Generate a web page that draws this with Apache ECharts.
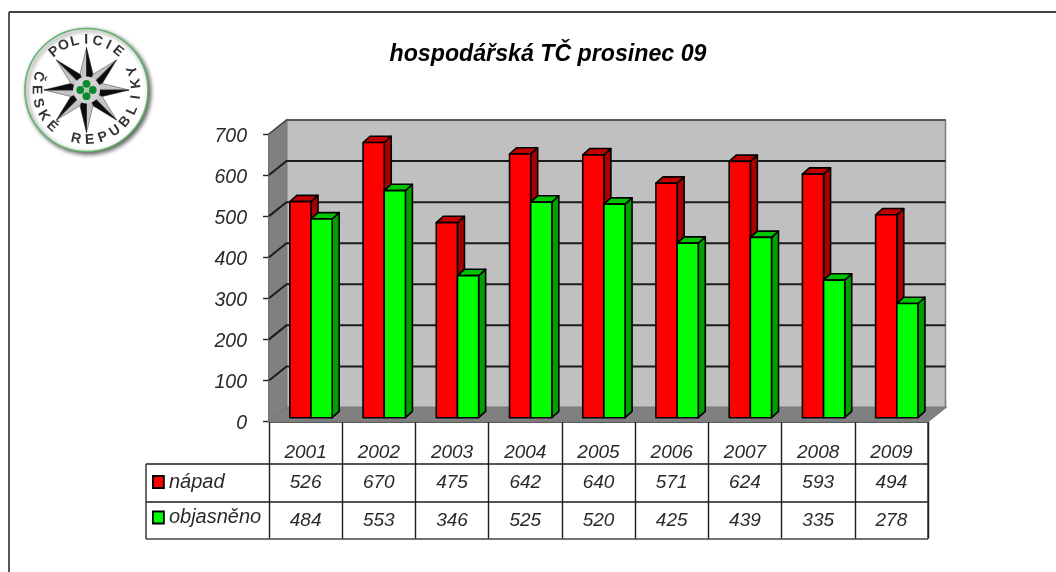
<!DOCTYPE html>
<html><head><meta charset="utf-8">
<style>html,body{margin:0;padding:0;background:#fff}#c{width:1056px;height:572px}</style>
<script src="https://cdn.jsdelivr.net/npm/echarts@6/dist/echarts.min.js"></script>
</head><body><div id="c"></div>
<script>
const years = ['2001','2002','2003','2004','2005','2006','2007','2008','2009'];
const napad = [526,670,475,642,640,571,624,593,494];
const objasneno = [484,553,346,525,520,425,439,335,278];
const yTicks = [0,100,200,300,400,500,600,700];
const titleText = 'hospodářská TČ prosinec 09';
const FONT = '"Liberation Sans", Arial, sans-serif';
const TXT = '#2a2a2a';

const chart = echarts.init(document.getElementById('c'), null, {renderer:'canvas'});
const DX = 17.5, DY = -14;

function wallItem(params, api){
  const c = params.coordSys;
  const x0=c.x, x1=c.x+c.width, yT=c.y, yB=c.y+c.height;
  const poly=(pts,fill,stroke)=>({type:'polygon',shape:{points:pts},style:{fill,stroke:stroke||'#7a7a7a',lineWidth:1.5}});
  const kids=[
    poly([[x0+DX,yT+DY],[x1+DX,yT+DY],[x1+DX,yB+DY],[x0+DX,yB+DY]],'#c0c0c0'),
    poly([[x0,yT],[x0+DX,yT+DY],[x0+DX,yB+DY],[x0,yB]],'#808080'),
    poly([[x0,yB],[x0+DX,yB+DY],[x1+DX,yB+DY],[x1,yB]],'#808080')
  ];
  yTicks.forEach(t=>{
    if(t===0) return;
    const y=api.coord([0,t])[1];
    const top = t===yTicks[yTicks.length-1];
    kids.push({type:'polyline',shape:{points:[[x0,y],[x0+DX,y+DY],[x1+DX,y+DY]]},
      style:{fill:'none',stroke:top?'#444':'#1c1c1c',lineWidth:top?1.5:2}});
  });
  return {type:'group',children:kids};
}

function barItem(side, front, top, sideCol, rowY){
  return function(params, api){
    const i=api.value(0), v=api.value(1);
    const p=api.coord([i,v]), b=api.coord([i,0]);
    const w=api.size([1,0])[0]*0.289;
    const sx=5.4, sy=-3.8, dx=7, dy=-6.3;
    const xa=p[0]+sx+(side<0?-w:0), xb=xa+w, yt=p[1]+sy, yb=b[1]+sy;
    const st=(fill)=>({fill,stroke:'#000',lineWidth:1.6,lineJoin:'round'});
    return {type:'group',children:[
      {type:'polygon',shape:{points:[[xb,yt],[xb+dx,yt+dy],[xb+dx,yb+dy],[xb,yb]]},style:st(sideCol)},
      {type:'polygon',shape:{points:[[xa,yt],[xa+dx,yt+dy],[xb+dx,yt+dy],[xb,yt]]},style:st(top)},
      {type:'rect',shape:{x:xa,y:yt,width:w,height:yb-yt},style:st(front)},
      {type:'text',x:p[0],y:rowY,style:{text:String(v),align:'center',verticalAlign:'middle',
        font:'italic 19px '+FONT,fill:TXT}}
    ]};
  };
}

// decoration: police emblem
function logo(){
  const cx=86.5, cy=90, kids=[];
  kids.push({type:'circle',shape:{cx,cy,r:61.5},style:{fill:'#fff',stroke:'#62b56c',lineWidth:1.6,
    shadowBlur:4,shadowColor:'rgba(0,0,0,.65)',shadowOffsetX:2,shadowOffsetY:2}});
  const R=42.5, r=17;
  for(let k=0;k<8;k++){
    const a=k*Math.PI/4;
    const pt=(rad,ang)=>[cx+rad*Math.sin(ang),cy-rad*Math.cos(ang)];
    const tip=pt(R,a), l=pt(r,a-Math.PI/8), rr=pt(r,a+Math.PI/8), c=[cx,cy];
    kids.push({type:'polygon',shape:{points:[c,tip,l]},style:{fill:'#c4c4c4',stroke:'#555',lineWidth:.6}});
    kids.push({type:'polygon',shape:{points:[c,tip,rr]},style:{fill:'#0c0c0c',stroke:'#222',lineWidth:.6}});
  }
  kids.push({type:'circle',shape:{cx,cy,r:13.5},style:{fill:'#d2d2d2'}});
  [[0,-6.2],[6.2,0],[0,6.2],[-6.2,0]].forEach(o=>kids.push({type:'circle',shape:{cx:cx+o[0],cy:cy+o[1],r:3.9},style:{fill:'#0e8a2e'}}));
  kids.push({type:'circle',shape:{cx,cy,r:2},style:{fill:'#9fc9a8'}});
  const letter=(ch,deg,rot)=>{
    const a=deg*Math.PI/180, TR=50;
    kids.push({type:'text',x:cx+TR*Math.sin(a),y:cy-TR*Math.cos(a),rotation:-rot*Math.PI/180,
      style:{text:ch,align:'center',verticalAlign:'middle',font:'bold 14px '+FONT,fill:'#333'}});
  };
  const top='POLICIE';
  for(let i=0;i<top.length;i++){const d=-40+i*13.2; letter(top[i],d,d);}
  const bot='ČESKÉ REPUBLIKY';
  for(let i=0;i<bot.length;i++){const d=286-i*(219/14); if(bot[i]!==' ') letter(bot[i],d,d-180);}
  return {type:'group',silent:true,children:kids};
}

function ln(x1,y1,x2,y2,c,w){return {type:'line',silent:true,shape:{x1,y1,x2,y2},style:{stroke:c||'#1c1c1c',lineWidth:w||1.4}};}

const option={
  animation:false,
  backgroundColor:'#fff',
  title:{text:titleText,left:543,top:38,textAlign:'center',
    textStyle:{fontFamily:FONT,fontStyle:'italic',fontWeight:'bold',fontSize:23.2,color:'#000'}},
  grid:{left:269,top:134,width:659,height:287.5,containLabel:false},
  legend:{orient:'vertical',left:147,top:467,itemWidth:11,itemHeight:12,itemGap:15.5,selectedMode:false,
    textStyle:{fontFamily:FONT,fontStyle:'italic',fontSize:20,color:TXT},
    data:[
      {name:'nápad',icon:'rect',itemStyle:{color:'#ff0000',borderColor:'#000',borderWidth:1.8}},
      {name:'objasněno',icon:'rect',itemStyle:{color:'#00ff00',borderColor:'#000',borderWidth:1.8}}
    ]},
  xAxis:{type:'category',data:years,boundaryGap:true,
    axisLine:{show:true,lineStyle:{color:'#1c1c1c',width:1.6}},
    axisTick:{show:true,length:117,inside:false,lineStyle:{color:'#1c1c1c',width:1.4}},
    axisLabel:{margin:21.5,fontFamily:FONT,fontStyle:'italic',fontSize:19,color:TXT},
    splitLine:{show:false}},
  yAxis:{type:'value',min:0,max:700,interval:100,
    axisLine:{show:true,lineStyle:{color:'#333',width:1.5}},
    axisTick:{show:true,length:6,lineStyle:{color:'#222',width:1.4}},
    axisLabel:{margin:22,formatter:'{a|{value}}',
      rich:{a:{padding:[5,0,0,0],fontFamily:FONT,fontStyle:'italic',fontSize:19.5,color:TXT}}},
    splitLine:{show:false}},
  series:[
    {type:'custom',name:'wall',silent:true,z:1,clip:false,renderItem:wallItem,data:[[0,0]],encode:{x:0,y:1}},
    {type:'custom',name:'nápad',z:3,clip:false,itemStyle:{color:'#ff0000'},
      renderItem:barItem(-1,'#ff0000','#c00000','#a80000',482.5),
      data:napad.map((v,i)=>[i,v]),encode:{x:0,y:1}},
    {type:'custom',name:'objasněno',z:4,clip:false,itemStyle:{color:'#00ff00'},
      renderItem:barItem(1,'#00ff00','#00c400','#00a000',520.5),
      data:objasneno.map((v,i)=>[i,v]),encode:{x:0,y:1}}
  ],
  graphic:{elements:[
    ln(9,12,1056,12,'#444',1.8),
    ln(9,12,9,572,'#444',1.8),
    ln(146,464,928,464),
    ln(146,502,928,502),
    ln(146,539,928,539,'#444',1.6),
    ln(146,464,146,539,'#444',1.6),
    ln(928,421,928,539,'#444',1.6),
    logo()
  ]}
};
chart.setOption(option);
</script></body></html>
